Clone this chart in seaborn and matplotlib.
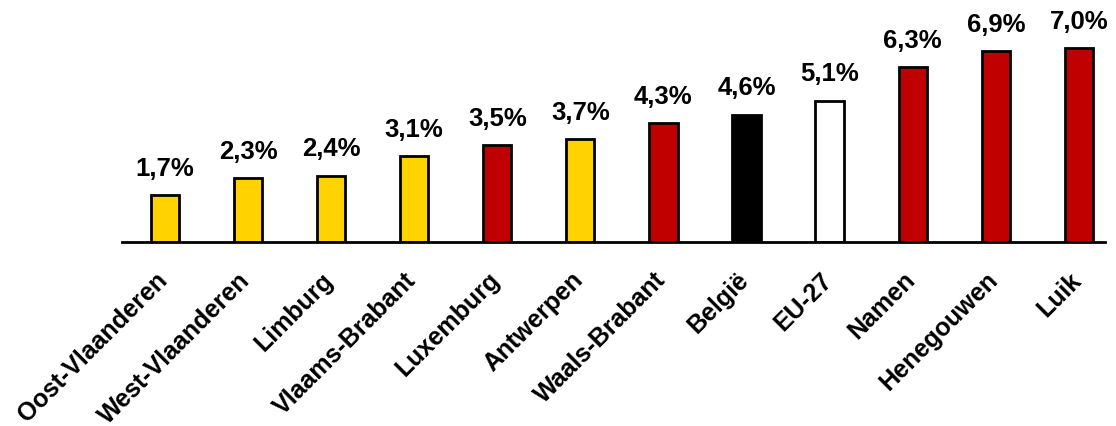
import seaborn as sns
import matplotlib.pyplot as plt
import matplotlib.transforms as mtransforms
import pandas as pd

regio = ["Oost-Vlaanderen", "West-Vlaanderen", "Limburg", "Vlaams-Brabant",
         "Luxemburg", "Antwerpen", "Waals-Brabant", "België", "EU-27",
         "Namen", "Henegouwen", "Luik"]
waarde = [1.7, 2.3, 2.4, 3.1, 3.5, 3.7, 4.3, 4.6, 5.1, 6.3, 6.9, 7.0]
kleur = ["#FFD200", "#FFD200", "#FFD200", "#FFD200", "#C00000", "#FFD200",
         "#C00000", "#000000", "#FFFFFF", "#C00000", "#C00000", "#C00000"]

df = pd.DataFrame({"Regio": regio, "Waarde": waarde})

sns.set_style("white")
plt.rcParams["font.family"] = ["Liberation Sans", "DejaVu Sans"]
plt.rcParams["text.color"] = "black"
plt.rcParams["xtick.color"] = "black"

fig = plt.figure(figsize=(11.16, 4.27), dpi=100)
ax = fig.add_axes([0.1093, 0.4309, 0.8807, 0.5691])

sns.barplot(data=df, x="Regio", y="Waarde", hue="Regio",
            palette=dict(zip(regio, kleur)), legend=False, saturation=1,
            width=0.34, edgecolor="black", linewidth=2, ax=ax)

# waardelabels boven de staven
for cont in ax.containers:
    ax.bar_label(cont, labels=[f"{v:.1f}%".replace(".", ",") for v in cont.datavalues],
                 padding=11, fontsize=18.5, fontweight="bold", color="black")

ax.set_ylim(0, 8.77)
ax.set_xlim(-0.517, len(regio) - 1 + 0.313)
ax.set_xlabel("")
ax.set_ylabel("")
ax.set_yticks([])
for s in ["top", "right", "left"]:
    ax.spines[s].set_visible(False)
ax.spines["bottom"].set_linewidth(2)
ax.spines["bottom"].set_color("black")
ax.tick_params(axis="x", length=0, pad=0)
# labels iets naar links en omlaag, zoals in het origineel
verschuif = mtransforms.ScaledTranslation(-0.10, -0.25, fig.dpi_scale_trans)
for lbl in ax.get_xticklabels():
    lbl.set_transform(lbl.get_transform() + verschuif)
plt.setp(ax.get_xticklabels(), rotation=45, ha="right", va="top",
         rotation_mode="anchor", fontsize=18, fontweight="bold", color="black")

fig.savefig("out.png", dpi=100)
